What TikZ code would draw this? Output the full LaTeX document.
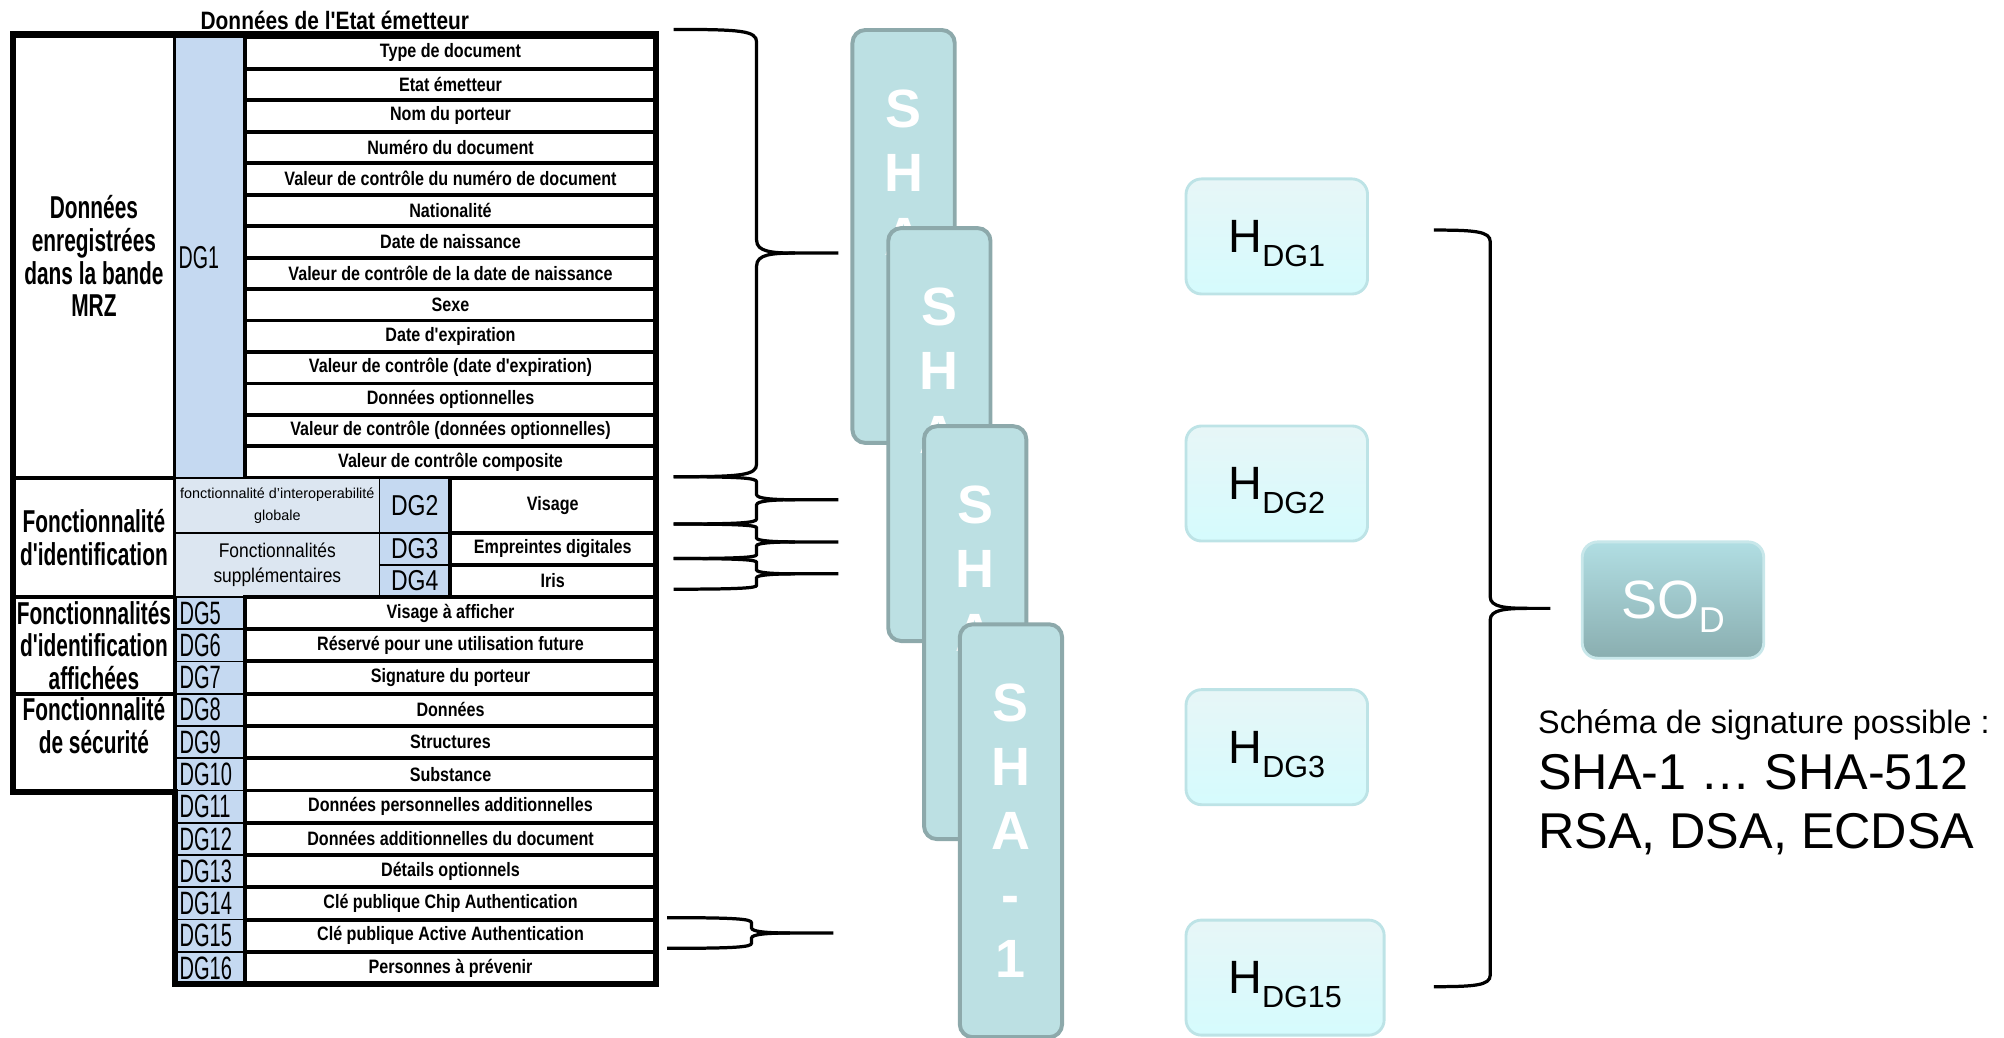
\documentclass[tikz,border=0pt]{standalone}
\usepackage{fontspec}
\setmainfont{Liberation Sans}
\newfontfamily\cellfont[FakeStretch=0.83]{Liberation Sans}
\newfontfamily\sidefont[FakeStretch=0.66]{Liberation Sans}
\newfontfamily\dgfont[FakeStretch=0.62]{Liberation Sans}
\newfontfamily\dgmidfont[FakeStretch=0.8]{Liberation Sans}
\newfontfamily\suppfont[FakeStretch=0.88]{Liberation Sans}
\usetikzlibrary{positioning}

\definecolor{dgblue}{HTML}{C5D9F1}
\definecolor{dglight}{HTML}{DCE6F1}
\definecolor{shafill}{HTML}{BCE0E3}
\definecolor{shaedge}{HTML}{8DA9AB}
\definecolor{htop}{HTML}{E7F6F7}
\definecolor{hbottom}{HTML}{D5FBFD}
\definecolor{hedge}{HTML}{BDE3E6}
\definecolor{sodtop}{HTML}{B1DEE3}
\definecolor{sodbottom}{HTML}{8AAEB0}
\definecolor{sodedge}{HTML}{C8E7EA}

\newcommand{\lowsub}[2]{\raisebox{-3.9pt}{\fontsize{#1}{#1}\selectfont #2}}
% xleft, xspine, xtip, ytop, ytip, ybottom, corner
\newcommand{\curly}[7]{%
  \draw[bracket] (#1,#4) .. controls ({#2-12},#4) and (#2,{#4+1}) .. (#2,{#4+#7})
    -- (#2,{#5-#7}) .. controls (#2,{#5-1}) and ({#2+12},#5) .. ({#2+30},#5) -- (#3,#5);
  \draw[bracket] ({#2+30},#5) .. controls ({#2+12},#5) and (#2,{#5+1}) .. (#2,{#5+#7})
    -- (#2,{#6-#7}) .. controls (#2,{#6-1}) and ({#2-12},#6) .. (#1,#6);}

\begin{document}
\begin{tikzpicture}[x=0.0125cm, y=-0.0125cm,
    rowcell/.style={draw, line width=1.1pt, minimum width=4.0125cm, inner sep=0pt,
        font=\cellfont\bfseries\fontsize{5.4}{6}\selectfont},
    dgcell/.style={draw, line width=0.5pt, fill=dgblue, inner xsep=1pt, inner ysep=0pt,
        text width=0.617cm, align=left, font=\dgfont\fontsize{9}{9}\selectfont},
    dgmid/.style={draw, line width=0.5pt, fill=dgblue, inner sep=0pt, minimum width=0.6875cm,
        font=\dgmidfont\fontsize{8}{8}\selectfont},
    lightcell/.style={draw, line width=0.5pt, fill=dglight, inner sep=0pt, minimum width=2cm,
        align=center},
    sidebox/.style={draw, line width=1.1pt, minimum width=1.5875cm, inner sep=0pt, align=center,
        font=\sidefont\bfseries\fontsize{8.8}{9.1}\selectfont},
    sidetext/.style={align=center, inner sep=0pt,
        font=\sidefont\bfseries\fontsize{8.8}{9.1}\selectfont},
    frame/.style={line width=1.7pt},
    shabox/.style={draw=shaedge, fill=shafill, line width=1.1pt, rounded corners=3.6pt,
        minimum width=1cm, minimum height=4.0375cm, inner sep=0pt, align=center, text=white,
        font=\bfseries\fontsize{15}{17.8}\selectfont},
    hbox/.style={draw=hedge, top color=htop, bottom color=hbottom, line width=0.8pt,
        rounded corners=4.3pt, minimum width=1.775cm, minimum height=1.125cm, text depth=0pt,
        font=\fontsize{13}{13}\selectfont},
    sodbox/.style={draw=sodedge, top color=sodtop, bottom color=sodbottom, line width=0.8pt,
        rounded corners=4.3pt, minimum width=1.775cm, minimum height=1.1375cm, text depth=0pt,
        text=white, font=\fontsize{15}{15}\selectfont},
    sigsmall/.style={inner sep=0pt, font=\fontsize{9}{9}\selectfont},
    siglarge/.style={inner sep=0pt, font=\fontsize{14}{14}\selectfont},
    bracket/.style={line width=0.9pt}
]
    \useasboundingbox (0,0) rectangle (1568,812);

    \node[font=\cellfont\bfseries\fontsize{7}{7}\selectfont] (title) at (262,16)
        {Données de l'Etat émetteur};

    \node[sidebox, minimum height=4.3375cm] (mrz)    at (73.5,200.5) {Données\\enregistrées\\dans la bande\\MRZ};
    \node[sidebox, minimum height=1.1625cm] (ident)  at (73.5,420.5) {Fonctionnalité\\d'identification};
    \node[sidebox, minimum height=0.95cm]   (affich) at (73.5,505)   {Fonctionnalités\\d'identification\\affichées};
    \node[sidebox, minimum height=0.9625cm] (secu)   at (73.5,581.5) {};
    \node[sidetext]                         (secutext) at (73.5,567.5) {Fonctionnalité\\de sécurité};

    \node[dgcell, minimum height=4.3125cm, font=\dgfont\fontsize{8.8}{8.8}\selectfont] (dg1) at (164.5,201.5) {DG1};

    \foreach \t [count=\i] in {Type de document, Etat émetteur, Nom du porteur, Numéro du document,
        Valeur de contrôle du numéro de document, Nationalité, Date de naissance,
        Valeur de contrôle de la date de naissance, Sexe, Date d'expiration,
        Valeur de contrôle (date d'expiration), Données optionnelles,
        Valeur de contrôle (données optionnelles), Valeur de contrôle composite}
        \node[rowcell, minimum height=0.308cm] (mrz\i) at (352.5,{29+24.64*(\i-0.5)}) {\t};

    \node[lightcell, minimum height=0.5375cm, font=\fontsize{4}{6}\selectfont] (interop) at (217,395.5)
        {fonctionnalité d'interoperabilité\\globale};
    \node[dgmid, minimum height=0.5375cm] (dg2) at (324.5,395.5) {DG2};
    \node[rowcell, minimum width=2.0125cm, minimum height=0.5375cm] (visage) at (432.5,395.5) {Visage};

    \node[lightcell, minimum height=0.625cm, font=\suppfont\fontsize{5.5}{7.1}\selectfont] (supp) at (217,442)
        {Fonctionnalités\\supplémentaires};
    \node[dgmid, minimum height=0.3125cm] (dg3) at (324.5,429.5) {DG3};
    \node[dgmid, minimum height=0.3125cm] (dg4) at (324.5,454.5) {DG4};
    \node[rowcell, minimum width=2.0125cm, minimum height=0.3125cm] (empreintes) at (432.5,429.5) {Empreintes digitales};
    \node[rowcell, minimum width=2.0125cm, minimum height=0.3125cm] (iris) at (432.5,454.5) {Iris};

    \foreach \t [count=\i from 5] in {Visage à afficher, Réservé pour une utilisation future,
        Signature du porteur, Données, Structures, Substance,
        Données personnelles additionnelles, Données additionnelles du document,
        Détails optionnels, Clé publique Chip Authentication,
        Clé publique Active Authentication, Personnes à prévenir}
    {
        \node[dgcell, anchor=west, minimum height=0.3156cm] (dg\i) at (137,{467+25.25*(\i-4.5)}) {DG\i};
        \node[rowcell, minimum height=0.3156cm] (row\i) at (352.5,{467+25.25*(\i-4.5)}) {\t};
    }

    \draw[frame] (10,620) -- (10,27) -- (513,27) -- (513,770) -- (137,770) -- (137,620) -- cycle;

    \curly{527}{592}{656}{23}{198}{373}{10}
    \curly{527}{592}{656}{373}{391}{410}{4}
    \curly{527}{592}{656}{410}{424}{437}{3}
    \curly{527}{592}{656}{437}{449}{461}{3}
    \curly{522}{588}{652}{718}{730}{742}{4}

    \node[shabox] (sha1) at (707,185) {S\\H\\A\\-\\1};
    \node[shabox] (sha2) at (735,340) {S\\H\\A\\-\\1};
    \node[shabox] (sha3) at (763,495) {S\\H\\A\\-\\1};
    \node[shabox] (sha4) at (791,650) {S\\H\\A\\-\\1};

    \node[hbox] (h1) at (999,185) {H\lowsub{8.5}{DG1}};
    \node[hbox] (h2) [below=1.2625cm of h1] {H\lowsub{8.5}{DG2}};
    \node[hbox] (h3) [below=1.425cm of h2] {H\lowsub{8.5}{DG3}};
    \node[hbox, minimum width=1.9375cm] (h15) [below=1.1cm of h3.south west, anchor=north west] {H\lowsub{8.5}{DG15}};

    \curly{1122}{1166}{1213}{180}{476}{772}{9}

    \node[sodbox] (sod) at (1309,469.5) {SO\lowsub{10}{D}};

    \node[sigsmall, anchor=base west] (sigtitle) at (1203,574) {Schéma de signature possible :};
    \node[siglarge] (sighash) [below=0.55cm of sigtitle.base west, anchor=base west] {SHA-1 … SHA-512};
    \node[siglarge] (sigalgo) [below=0.575cm of sighash.base west, anchor=base west] {RSA, DSA, ECDSA};
\end{tikzpicture}
\end{document}
